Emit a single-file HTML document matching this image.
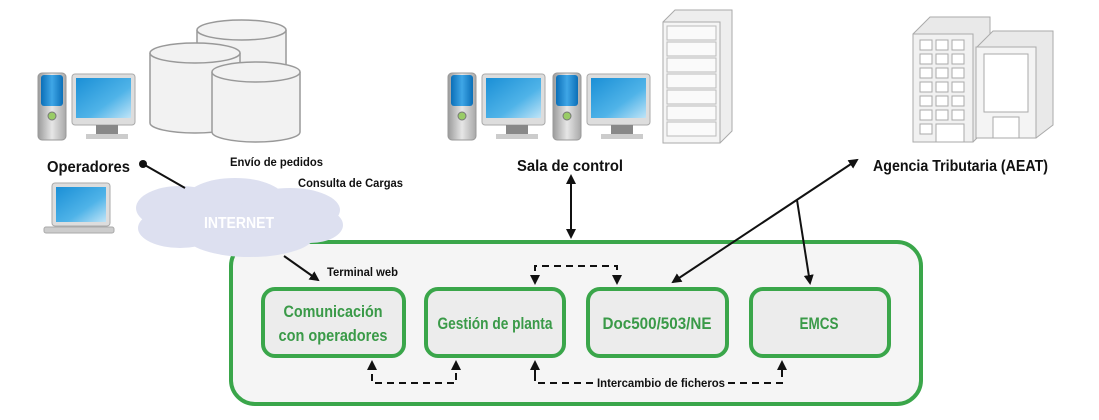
<!DOCTYPE html>
<html><head><meta charset="utf-8"><style>
html,body{margin:0;padding:0;background:#fff;}
svg{display:block;font-family:"Liberation Sans",sans-serif;}
.lbl{font-size:16px;fill:#111;font-weight:bold;}
.sm{font-size:12px;fill:#111;font-weight:bold;}
.g{font-size:17px;fill:#3a9a48;text-anchor:middle;font-weight:bold;}
</style></head><body>
<svg width="1099" height="420" viewBox="0 0 1099 420" xmlns="http://www.w3.org/2000/svg">
<defs>
<linearGradient id="scr" x1="0" y1="0" x2="1" y2="1"><stop offset="0" stop-color="#1a8fd6"/><stop offset="0.6" stop-color="#4fb3e8"/><stop offset="1" stop-color="#bfe4f7"/></linearGradient>
<linearGradient id="tw" x1="0" y1="0" x2="1" y2="0"><stop offset="0" stop-color="#9a9a9a"/><stop offset="0.5" stop-color="#e6e6e6"/><stop offset="1" stop-color="#a8a8a8"/></linearGradient>
<linearGradient id="twb" x1="0" y1="0" x2="1" y2="0"><stop offset="0" stop-color="#0b6fb8"/><stop offset="0.5" stop-color="#3fa6e6"/><stop offset="1" stop-color="#0b6fb8"/></linearGradient>
<g id="pc">
<rect x="0" y="0" width="28" height="67" rx="4" fill="url(#tw)" stroke="#999"/>
<rect x="3" y="2" width="22" height="31" rx="3" fill="url(#twb)"/>
<circle cx="14" cy="43" r="4" fill="#9c6" stroke="#777"/>
<rect x="34" y="1" width="63" height="51" rx="3" fill="#ddd" stroke="#aaa"/>
<rect x="38" y="5" width="55" height="40" fill="url(#scr)"/>
<rect x="58" y="52" width="22" height="10" fill="#888"/>
<rect x="48" y="61" width="42" height="5" fill="#ccc"/>
</g>
<marker id="ah" markerWidth="10" markerHeight="10" refX="8" refY="5" orient="auto-start-reverse" markerUnits="userSpaceOnUse"><path d="M0,0 L10,5 L0,10 z" fill="#111"/></marker>
</defs>

<use href="#pc" x="38" y="73"/>
<rect x="52" y="183" width="58" height="43" rx="3" fill="#ddd" stroke="#aaa"/>
<rect x="56" y="187" width="50" height="35" fill="url(#scr)"/>
<rect x="44" y="227" width="70" height="6" rx="2" fill="#ccc" stroke="#aaa"/>

<g fill="#f2f2f2" stroke="#999" stroke-width="1.5">
<path d="M197,30 v75 a44,10 0 0 0 89,0 v-75"/><ellipse cx="241.5" cy="30" rx="44.5" ry="10"/>
<path d="M150,53 v70 a45,10 0 0 0 90,0 v-70"/><ellipse cx="195" cy="53" rx="45" ry="10"/>
<path d="M212,72 v60 a44,10 0 0 0 88,0 v-60"/><ellipse cx="256" cy="72" rx="44" ry="10"/>
</g>

<use href="#pc" x="448" y="73"/>
<use href="#pc" x="553" y="73"/>
<g stroke="#aaa" fill="#f3f3f3">
<path d="M663,22 L675,10 L732,10 L732,131 L720,143 L663,143 z" fill="#eee"/>
<rect x="663" y="22" width="57" height="121" fill="#f5f5f5"/>
<g fill="#fafafa" stroke="#bbb">
<rect x="667" y="26" width="49" height="14"/><rect x="667" y="42" width="49" height="14"/><rect x="667" y="58" width="49" height="14"/><rect x="667" y="74" width="49" height="14"/><rect x="667" y="90" width="49" height="14"/><rect x="667" y="106" width="49" height="14"/><rect x="667" y="122" width="49" height="14"/>
</g></g>

<g stroke="#aaa" fill="#f1f1f1">
<path d="M913,34 L930,17 L990,17 L990,125 L973,142 L913,142 z" fill="#e9e9e9"/>
<rect x="913" y="34" width="60" height="108"/>
<path d="M976,48 L993,31 L1053,31 L1053,125 L1036,138 L976,138 z" fill="#e9e9e9"/>
<rect x="976" y="47" width="60" height="91" fill="#f4f4f4"/>
<g fill="#fff" stroke="#aaa">
<rect x="920" y="40" width="12" height="10"/><rect x="936" y="40" width="12" height="10"/><rect x="952" y="40" width="12" height="10"/>
<rect x="920" y="54" width="12" height="10"/><rect x="936" y="54" width="12" height="10"/><rect x="952" y="54" width="12" height="10"/>
<rect x="920" y="68" width="12" height="10"/><rect x="936" y="68" width="12" height="10"/><rect x="952" y="68" width="12" height="10"/>
<rect x="920" y="82" width="12" height="10"/><rect x="936" y="82" width="12" height="10"/><rect x="952" y="82" width="12" height="10"/>
<rect x="920" y="96" width="12" height="10"/><rect x="936" y="96" width="12" height="10"/><rect x="952" y="96" width="12" height="10"/>
<rect x="920" y="110" width="12" height="10"/><rect x="936" y="110" width="12" height="10"/><rect x="952" y="110" width="12" height="10"/>
<rect x="920" y="124" width="12" height="10"/><rect x="936" y="124" width="28" height="18"/>
<rect x="984" y="54" width="44" height="58"/><rect x="993" y="117" width="26" height="21"/>
</g></g>

<text x="47" y="172" class="lbl" textLength="83" lengthAdjust="spacingAndGlyphs">Operadores</text>
<text x="230" y="166" class="sm" textLength="93" lengthAdjust="spacingAndGlyphs">Envío de pedidos</text>
<text x="298" y="187" class="sm" textLength="105" lengthAdjust="spacingAndGlyphs">Consulta de Cargas</text>
<text x="517" y="171" class="lbl" textLength="106" lengthAdjust="spacingAndGlyphs">Sala de control</text>
<text x="873" y="171" class="lbl" textLength="175" lengthAdjust="spacingAndGlyphs">Agencia Tributaria (AEAT)</text>

<rect x="231" y="242" width="690" height="162" rx="24" fill="#f5f5f5" stroke="#3aa64a" stroke-width="4"/>

<g fill="#dde0f0">
<ellipse cx="180" cy="208" rx="44" ry="22"/>
<ellipse cx="235" cy="200" rx="50" ry="22"/>
<ellipse cx="290" cy="210" rx="50" ry="22"/>
<ellipse cx="310" cy="225" rx="33" ry="18"/>
<ellipse cx="250" cy="235" rx="65" ry="22"/>
<ellipse cx="180" cy="228" rx="42" ry="20"/>
</g>
<text x="239" y="228" font-size="16" fill="#fff" text-anchor="middle" font-weight="bold" textLength="70" lengthAdjust="spacingAndGlyphs">INTERNET</text>

<circle cx="143" cy="164" r="4" fill="#111"/>
<line x1="143" y1="164" x2="185" y2="188" stroke="#111" stroke-width="2"/>
<line x1="284" y1="256" x2="318" y2="280" stroke="#111" stroke-width="2" marker-end="url(#ah)"/>
<text x="327" y="276" class="sm" textLength="71" lengthAdjust="spacingAndGlyphs">Terminal web</text>

<line x1="571" y1="176" x2="571" y2="237" stroke="#111" stroke-width="2" marker-start="url(#ah)" marker-end="url(#ah)"/>
<line x1="857" y1="160" x2="673" y2="282" stroke="#111" stroke-width="2" marker-start="url(#ah)" marker-end="url(#ah)"/>
<line x1="797" y1="200" x2="810" y2="283" stroke="#111" stroke-width="2" marker-end="url(#ah)"/>

<g fill="#ececec" stroke="#3aa64a" stroke-width="4">
<rect x="263" y="289" width="141" height="67" rx="12"/>
<rect x="426" y="289" width="138" height="67" rx="12"/>
<rect x="588" y="289" width="139" height="67" rx="12"/>
<rect x="751" y="289" width="138" height="67" rx="12"/>
</g>
<text x="333" y="317" class="g" textLength="99" lengthAdjust="spacingAndGlyphs">Comunicación</text>
<text x="333" y="341" class="g" textLength="109" lengthAdjust="spacingAndGlyphs">con operadores</text>
<text x="495" y="329" class="g" textLength="115" lengthAdjust="spacingAndGlyphs">Gestión de planta</text>
<text x="657" y="329" class="g" textLength="109" lengthAdjust="spacingAndGlyphs">Doc500/503/NE</text>
<text x="819" y="329" class="g" textLength="39" lengthAdjust="spacingAndGlyphs">EMCS</text>

<g fill="none" stroke="#111" stroke-width="2" stroke-dasharray="7,5">
<path d="M535,283 V266 H617 V283" marker-start="url(#ah)" marker-end="url(#ah)"/>
<path d="M372,362 V383 H456 V362" marker-start="url(#ah)" marker-end="url(#ah)"/>
<path d="M535,362 V383 H595"/>
<path d="M728,383 H782 V362" marker-end="url(#ah)"/>
</g>
<path d="M535,375 V362" stroke="#111" stroke-width="2" marker-end="url(#ah)"/>
<text x="597" y="387" class="sm" textLength="128" lengthAdjust="spacingAndGlyphs">Intercambio de ficheros</text>
</svg>
</body></html>
